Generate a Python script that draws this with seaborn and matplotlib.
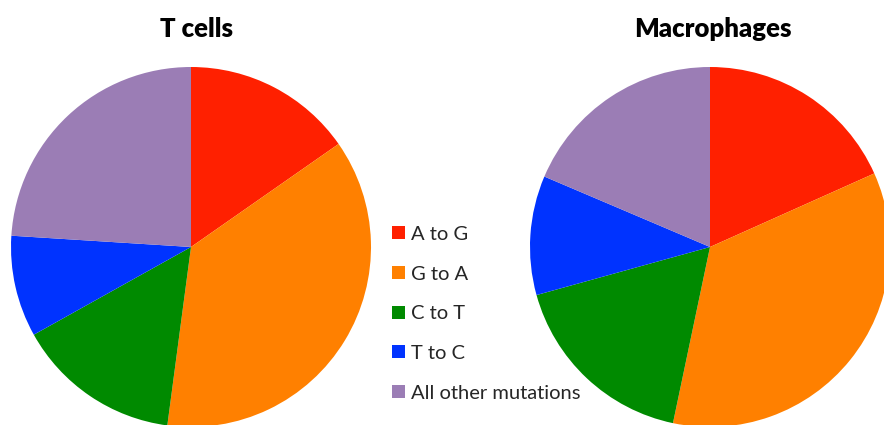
import matplotlib
matplotlib.use("Agg")
import matplotlib.pyplot as plt
import seaborn as sns
from matplotlib.patches import Patch

categories = ["A to G", "G to A", "C to T", "T to C", "All other mutations"]
tcells = [15.3, 36.8, 14.8, 9.1, 24.0]
macrophages = [18.3, 35.0, 17.4, 10.7, 18.6]
titles = ["T cells", "Macrophages"]
colors = ["#FF2000", "#FF8000", "#008A00", "#0033FF", "#9B7DB5"]

sns.set_theme(style="white")
plt.rcParams["font.family"] = ["Lato", "DejaVu Sans"]
palette = sns.color_palette(colors)

W, H = 884, 425
fig = plt.figure(figsize=(W / 100, H / 100), dpi=100)

def add_pie(cx, cy, r, values, title, tx):
    ax = fig.add_axes([(cx - r) / W, (H - cy - r) / H, 2 * r / W, 2 * r / H])
    ax.pie(values, colors=palette, startangle=90, counterclock=False,
           radius=1.0, wedgeprops=dict(linewidth=0))
    ax.set_xlim(-1, 1)
    ax.set_ylim(-1, 1)
    ax.set_aspect("equal")
    ax.axis("off")
    fig.text(tx / W, 1 - 29 / H, title, ha="center", va="center",
             fontsize=18.5, fontweight="heavy", color="black")

add_pie(191, 247, 180, tcells, titles[0], 197)
add_pie(710, 247, 180, macrophages, titles[1], 713)

handles = [Patch(facecolor=c, edgecolor="none") for c in palette]
fig.legend(handles, categories, loc="upper left",
           bbox_to_anchor=(384 / W, 1 - 218 / H), frameon=False,
           fontsize=14.5, handlelength=0.62, handleheight=0.62,
           handletextpad=0.3, labelspacing=1.125, borderaxespad=0)

fig.savefig("out.png", dpi=100)
